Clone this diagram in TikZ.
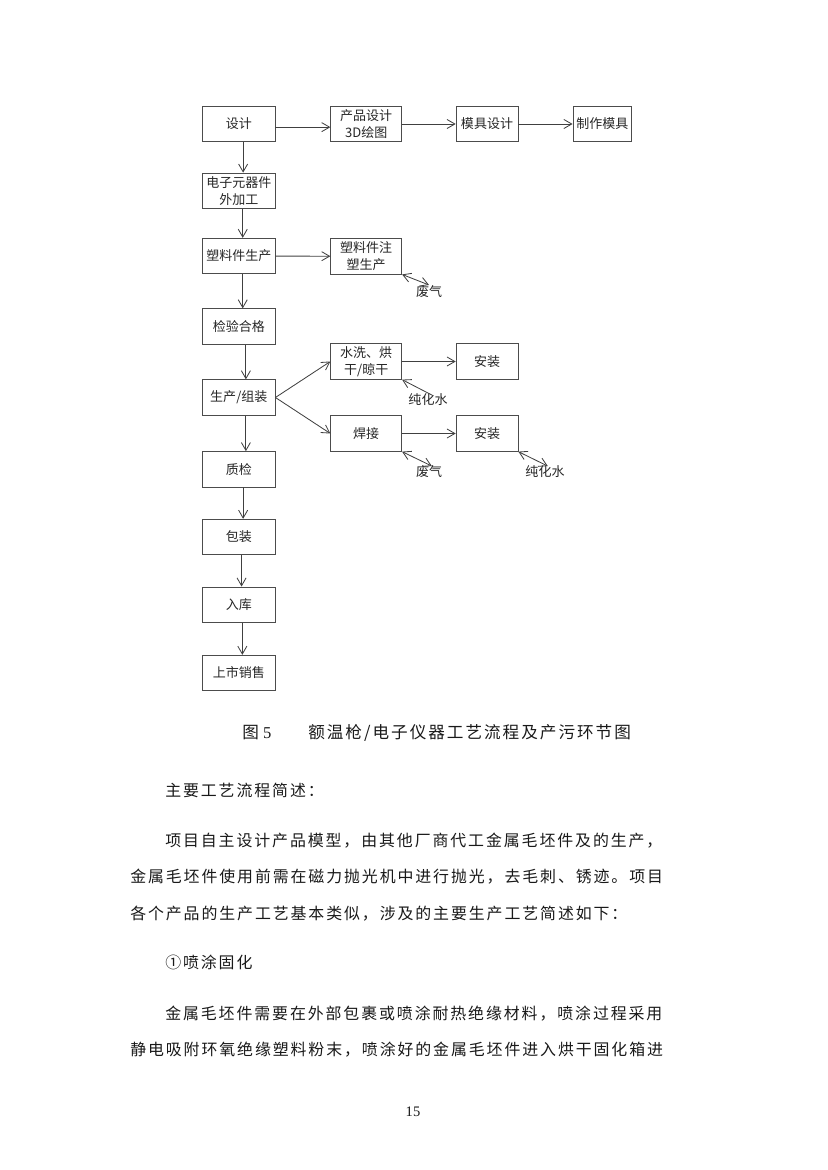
\documentclass[tikz,border=0pt]{standalone}
\usepackage{fontspec}
\setmainfont{Liberation Serif}
\newfontfamily\cjk{Noto Sans CJK SC}
\newfontfamily\cjkwide{Noto Sans CJK SC}[LetterSpace=12]
\usepackage{tikz}
\usetikzlibrary{arrows.meta}

\newcommand{\boxfont}{\cjk\fontsize{9.4pt}{12pt}\selectfont}
\newcommand{\bodyfont}{\cjkwide\fontsize{11.5pt}{14pt}\selectfont}
\newcommand{\capfont}{\fontsize{12pt}{14pt}\selectfont}

\begin{document}
\begin{tikzpicture}[x=0.254mm, y=-0.254mm,
  >={Straight Barb[length=2mm,width=2.3mm]},
  stepbox/.style={draw=black!70, line width=0.6pt, minimum height=9mm, inner sep=1pt,
    align=center, text=black!85, font=\boxfont},
  leftbox/.style={stepbox, minimum width=18.4mm},
  midbox/.style={stepbox, minimum width=18mm},
  rightbox/.style={stepbox, minimum width=15.7mm},
  farbox/.style={stepbox, minimum width=14.9mm},
  outlabel/.style={inner sep=0.5pt, text=black!85, font=\boxfont},
  flow/.style={draw=black!75, line width=0.6pt, ->},
  bodyline/.style={anchor=west, inner sep=0pt, text=black!90, font=\bodyfont},
  capline/.style={anchor=west, inner sep=0pt, text=black!90, font=\capfont}]
  \useasboundingbox (0,0) rectangle (827,1170);

  % main column
  \node[leftbox] (design)   at (238.8,124)   {设计};
  \node[leftbox] (elec)     at (238.8,190.8) {电子元器件\\外加工};
  \node[leftbox] (plastic)  at (238.8,256)   {塑料件生产};
  \node[leftbox] (inspect)  at (238.8,326.5) {检验合格};
  \node[leftbox] (assemble) at (238.8,397.5) {生产/组装};
  \node[leftbox] (qc)       at (238.8,469.3) {质检};
  \node[leftbox] (pack)     at (238.8,537)   {包装};
  \node[leftbox] (store)    at (238.8,604.7) {入库};
  \node[leftbox] (sale)     at (238.8,673)   {上市销售};

  % side branches
  \node[midbox]   (prod3d) at (366.2,124)   {产品设计\\3D绘图};
  \node[rightbox] (mould)  at (487,124)     {模具设计};
  \node[farbox]   (make)   at (602.3,124)   {制作模具};
  \node[midbox]   (inject) at (366.2,256.3) {塑料件注\\塑生产};
  \node[midbox]   (wash)   at (366.2,361.5) {水洗、烘\\干/晾干};
  \node[midbox]   (weld)   at (366.2,433.5) {焊接};
  \node[rightbox] (fitA)   at (487,361.5)   {安装};
  \node[rightbox] (fitB)   at (487,433.5)   {安装};

  \node[outlabel] (gasA)   at (429,292)   {废气};
  \node[outlabel] (waterA) at (428,400)   {纯化水};
  \node[outlabel] (gasB)   at (429,471.7) {废气};
  \node[outlabel] (waterB) at (545,471.7) {纯化水};

  \draw[flow] ([xshift=1.1mm]design.south) -- ([xshift=1.1mm]elec.north);
  \draw[flow] ([xshift=1mm]elec.south) -- ([xshift=1mm]plastic.north);
  \draw[flow] ([xshift=1mm]plastic.south) -- ([xshift=1mm]inspect.north);
  \draw[flow] ([xshift=1.8mm]inspect.south) -- ([xshift=1.8mm]assemble.north);
  \draw[flow] ([xshift=1.8mm]assemble.south) -- ([xshift=1.8mm]qc.north);
  \draw[flow] ([xshift=1.1mm]qc.south) -- ([xshift=1.1mm]pack.north);
  \draw[flow] ([xshift=0.7mm]pack.south) -- ([xshift=0.7mm]store.north);
  \draw[flow] ([xshift=0.9mm]store.south) -- ([xshift=0.9mm]sale.north);

  \draw[flow] ([yshift=-0.8mm]design.east) -- ([yshift=-0.8mm]prod3d.west);
  \draw[flow] (prod3d) -- (mould);
  \draw[flow] (mould) -- (make);
  \draw[flow] (plastic) -- (inject);
  \draw[flow] (assemble.east) -- (wash.west);
  \draw[flow] (assemble.east) -- (weld.west);
  \draw[flow] (wash) -- (fitA);
  \draw[flow] (weld) -- (fitB);

  \draw[flow, <->] (inject.south east) -- (gasA.north);
  \draw[flow, shorten <=-1.5mm] (waterA.north) -- (wash.south east);
  \draw[flow, <->, shorten >=-0.8mm] (weld.south east) -- (gasB.north);
  \draw[flow, <->, shorten >=-0.8mm] (fitB.south east) -- (waterB.north);

  % caption and text
  \node[capline] (fignum)   at (242,733) {{\cjk 图}\hspace{3pt}5};
  \node[capline] (figtitle) at (308,733) {{\cjkwide 额温枪/电子仪器工艺流程及产污环节图}};

  \node[bodyline] (lineA) at (165,790)  {主要工艺流程简述：};
  \node[bodyline] (lineB) at (165,841)  {项目自主设计产品模型，由其他厂商代工金属毛坯件及的生产，};
  \node[bodyline] (lineC) at (130,877)  {金属毛坯件使用前需在磁力抛光机中进行抛光，去毛刺、锈迹。项目};
  \node[bodyline] (lineD) at (130,914)  {各个产品的生产工艺基本类似，涉及的主要生产工艺简述如下：};
  \node[bodyline] (lineE) at (165,962)  {①喷涂固化};
  \node[bodyline] (lineF) at (165,1014) {金属毛坯件需要在外部包裹或喷涂耐热绝缘材料，喷涂过程采用};
  \node[bodyline] (lineG) at (130,1050) {静电吸附环氧绝缘塑料粉末，喷涂好的金属毛坯件进入烘干固化箱进};

  \node[font=\fontsize{10.5pt}{12pt}\selectfont, text=black!90] (pageno) at (413,1112) {15};
\end{tikzpicture}
\end{document}
